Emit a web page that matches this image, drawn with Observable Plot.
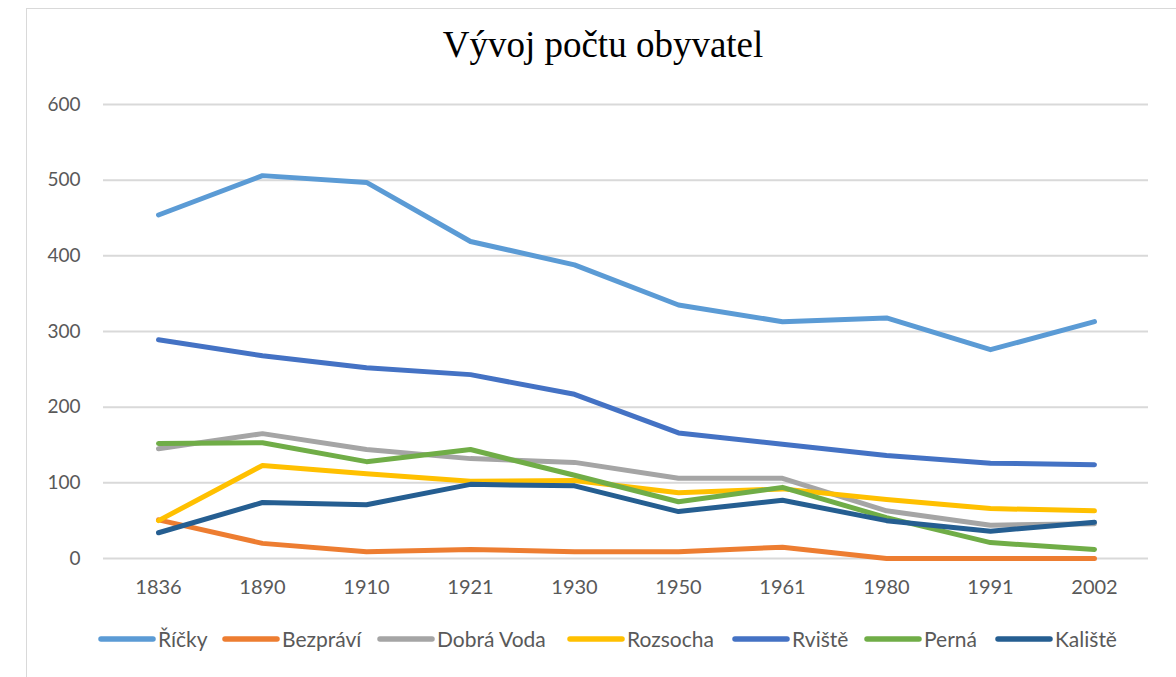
<!DOCTYPE html>
<html>
<head>
<meta charset="utf-8">
<script src="https://cdn.jsdelivr.net/npm/d3@7"></script>
<script src="https://cdn.jsdelivr.net/npm/@observablehq/plot@0.6"></script>
<style>
  html, body { margin: 0; padding: 0; background: #fff; }
  #wrap { position: relative; width: 1176px; height: 677px; overflow: hidden; }
  #frame { position: absolute; left: 26px; top: 8px; width: 1200px; height: 700px; border: 1.5px solid #d9d9d9; box-sizing: border-box; }
  #title { position: absolute; left: 0; width: 1206px; top: 23px; text-align: center; font-family: "Liberation Serif", "Times New Roman", serif; font-size: 37px; color: #000; }
  #chart { position: absolute; left: 0; top: 0; }
  #legend { position: absolute; top: 626px; left: 0; width: 1176px; font-family: Lato, "Open Sans", sans-serif; font-size: 21px; color: #595959; }
  .item { position: absolute; display: flex; align-items: center; white-space: nowrap; }
  .item svg { margin-right: 2px; }
</style>
</head>
<body>
<div id="wrap">
  <div id="frame"></div>
  <div id="chart"></div>
  <div id="title">Vývoj počtu obyvatel</div>
  <div id="legend"></div>
</div>
<script>
const years = ["1836","1890","1910","1921","1930","1950","1961","1980","1991","2002"];
const seriesNames = ["Říčky","Bezpráví","Dobrá Voda","Rozsocha","Rviště","Perná","Kaliště"];
const colors = ["#5B9BD5","#ED7D31","#A5A5A5","#FFC000","#4472C4","#70AD47","#255E91"];
const ricky    = [454, 506, 497, 419, 388, 335, 313, 318, 276, 313];
const bezpravi = [51, 20, 9, 12, 9, 9, 15, 0, 0, 0];
const dobraVoda= [145, 165, 144, 132, 127, 106, 106, 63, 44, 46];
const rozsocha = [50, 123, 112, 102, 103, 87, 92, 78, 66, 63];
const rviste   = [289, 268, 252, 243, 217, 166, 151, 136, 126, 124];
const perna    = [152, 153, 128, 144, 110, 75, 94, 54, 21, 12];
const kaliste  = [34, 74, 71, 98, 96, 62, 77, 50, 36, 48];
const yTicks = [0, 100, 200, 300, 400, 500, 600];

const allValues = [ricky, bezpravi, dobraVoda, rozsocha, rviste, perna, kaliste];
const data = [];
seriesNames.forEach((s, i) => {
  years.forEach((y, j) => data.push({series: s, year: y, value: allValues[i][j]}));
});

const plot = Plot.plot({
  width: 1176,
  height: 610,
  marginLeft: 103,
  marginRight: 28,
  marginTop: 104,
  marginBottom: 52,
  style: { fontFamily: "Lato, 'Open Sans', sans-serif", fontSize: "19px", color: "#595959", background: "transparent" },
  x: { type: "point", domain: years, padding: 0.5, label: null },
  y: { domain: [0, 600], ticks: yTicks, label: null },
  color: { domain: seriesNames, range: colors },
  marks: [
    Plot.gridY(yTicks, { stroke: "#d9d9d9", strokeOpacity: 1, strokeWidth: 2 }),
    Plot.axisY(yTicks, { tickSize: 0, tickPadding: 23, fontSize: 19, fill: "#595959" }),
    Plot.axisX(years, { tickSize: 0, tickPadding: 21, fontSize: 20, fill: "#595959" }),
    Plot.line(data, { x: "year", y: "value", z: "series", stroke: "series", strokeWidth: 5, strokeLinecap: "round", strokeLinejoin: "round" })
  ]
});
document.getElementById("chart").appendChild(plot);

const legendX = [98, 222, 377, 567, 732, 864, 995];
const legend = document.getElementById("legend");
seriesNames.forEach((s, i) => {
  const it = document.createElement("div");
  it.className = "item";
  it.style.left = legendX[i] + "px";
  it.innerHTML = `<svg width="58" height="10"><line x1="3" x2="55" y1="5" y2="5" stroke="${colors[i]}" stroke-width="5.5" stroke-linecap="round"/></svg><span>${s}</span>`;
  legend.appendChild(it);
});
</script>
</body>
</html>
